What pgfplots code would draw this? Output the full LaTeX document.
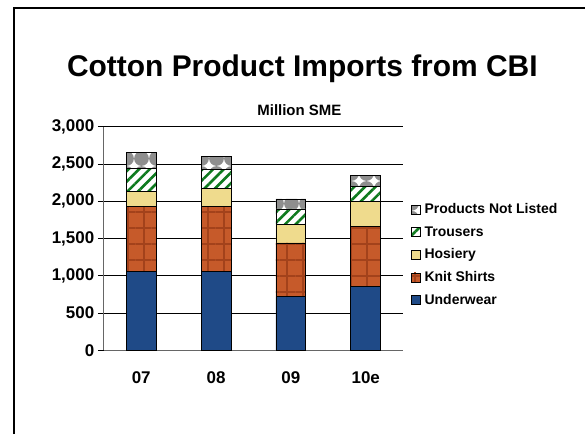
\documentclass[border=0pt]{standalone}
\usepackage{fontspec}
\setmainfont{Liberation Sans}
\usepackage{pgfplots}
\pgfplotsset{compat=1.18}
\usetikzlibrary{patterns.meta}
\definecolor{uwblue}{HTML}{1F4A87}
\definecolor{knit}{HTML}{C65A2A}
\definecolor{knitline}{HTML}{A3421B}
\definecolor{hos}{HTML}{EFDB8D}
\definecolor{trgreen}{HTML}{0E7A1E}
\definecolor{pnlgray}{HTML}{8E8E8E}
\tikzdeclarepattern{
  name=graydots, type=uncolored,
  bottom left={(0pt,0pt)}, top right={(15pt,15pt)}, tile size={(15pt,15pt)},
  code={\fill (7.5pt,7.5pt) circle (7.4pt);}
}
\begin{document}
\begin{tikzpicture}[x=1pt,y=1pt]
\path (0,0) rectangle (586,435);
\draw[line width=2.5pt] (14,0) -- (14,427) -- (586,427);
\node[font=\fontsize{30}{36}\selectfont\bfseries] at (303,366) {Cotton Product Imports from CBI};
\node[font=\fontsize{15}{18}\selectfont\bfseries] at (300,325) {Million SME};
\begin{axis}[
  at={(104pt,84pt)}, anchor=south west,
  scale only axis, width=300pt, height=224pt,
  ybar stacked, bar width=30pt,
  xmin=-0.5, xmax=3.5, ymin=0, ymax=3000,
  xtick={0,1,2,3}, xticklabels={07,08,09,10e},
  xtick style={draw=none},
  xticklabel style={font=\fontsize{17}{20}\selectfont\bfseries, yshift=-12pt},
  ytick={0,500,...,3000},
  scaled y ticks=false,
  yticklabel style={font=\fontsize{17}{20}\selectfont\bfseries},
  /pgf/number format/.cd, 1000 sep={,}, assume math mode=true, /pgfplots/.cd,
  ymajorgrids, major grid style={black, line width=0.8pt},
  axis y line*=left, axis x line*=bottom,
  axis line style={gray!80!black, line width=1pt},
  ytick style={black, line width=0.8pt},
  tick align=outside, major tick length=6pt,
  legend image code/.code={\draw[#1, line width=0.5pt] (0pt,-4.5pt) rectangle (9pt,4.5pt);},
  reverse legend,
  legend cell align=left,
  legend style={at={(1.026,0.663)}, anchor=north west, draw=none, fill=none,
    inner sep=0pt, font=\fontsize{14}{16}\selectfont\bfseries, row sep=8.2pt,
    column sep=2.5pt, nodes={inner sep=1.5pt}},
]
\addplot[draw=black, line width=0.8pt, fill=uwblue] coordinates {(0,1060) (1,1060) (2,720) (3,855)};
\addplot[draw=black, line width=0.8pt, fill=knit,
  postaction={pattern={Lines[angle=0,distance=16pt,line width=2pt]}, pattern color=knitline},
  postaction={pattern={Lines[angle=90,distance=16pt,line width=2pt]}, pattern color=knitline}]
  coordinates {(0,872) (1,872) (2,720) (3,805)};
\addplot[draw=black, line width=0.8pt, fill=hos] coordinates {(0,203) (1,245) (2,253) (3,340)};
\addplot[draw=black, line width=0.8pt, fill=white,
  postaction={pattern={Lines[angle=45,distance=7.5pt,line width=2.6pt]}, pattern color=trgreen}]
  coordinates {(0,305) (1,255) (2,203) (3,195)};
\addplot[draw=black, line width=0.8pt, fill=white,
  postaction={pattern=graydots, pattern color=pnlgray}]
  coordinates {(0,215) (1,168) (2,134) (3,155)};
\legend{Underwear, Knit Shirts, Hosiery, Trousers, Products Not Listed}
\end{axis}
\end{tikzpicture}
\end{document}
